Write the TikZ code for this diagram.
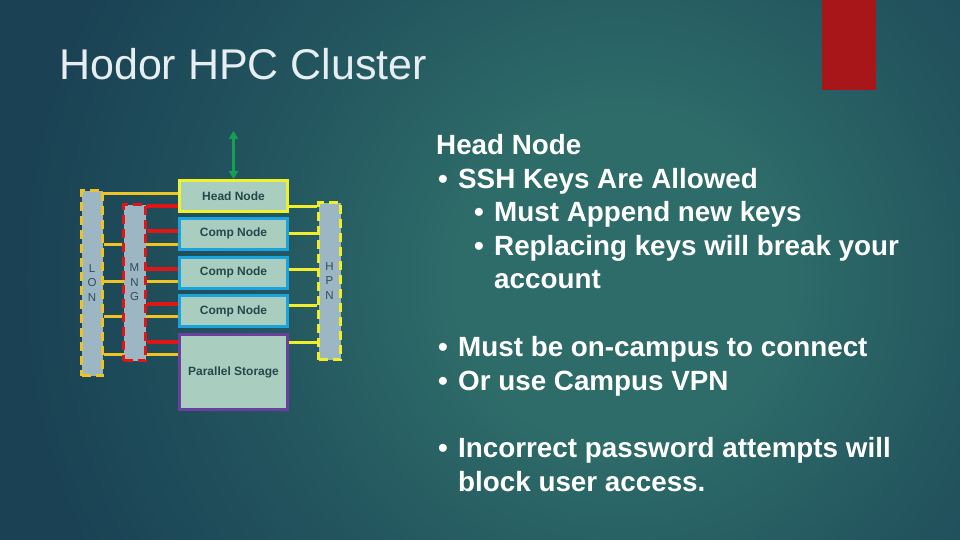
\documentclass[tikz,border=0pt]{standalone}
\usepackage{fontspec}
\setmainfont{Liberation Sans}
\usetikzlibrary{arrows.meta}
\definecolor{bgout}{HTML}{1A4254}
\definecolor{bgmid}{HTML}{23565F}
\definecolor{bgin}{HTML}{2E6C69}
\definecolor{accentred}{HTML}{A8161A}
\definecolor{titlecol}{HTML}{E6EEF1}
\definecolor{boxfill}{HTML}{A9CDBF}
\definecolor{boxtext}{HTML}{24494A}
\definecolor{barfill}{HTML}{9DB6C4}
\definecolor{bartext}{HTML}{2F4D5C}
\definecolor{headyel}{HTML}{EEF030}
\definecolor{compblue}{HTML}{1BA3DE}
\definecolor{storepurp}{HTML}{6A3F9E}
\definecolor{longold}{HTML}{EEC324}
\definecolor{mngred}{HTML}{E01515}
\definecolor{hpnyel}{HTML}{F0EE2A}
\definecolor{arrgreen}{HTML}{12A150}
\pgfdeclareradialshading{hpcglow}{\pgfpoint{0bp}{0bp}}{color(0bp)=(bgin); color(4bp)=(bgin); color(9bp)=(bgmid); color(15bp)=(bgout); color(50bp)=(bgout)}
\pgfdeclarelayer{bglayer}
\pgfdeclarelayer{wires}
\pgfsetlayers{bglayer,wires,main}
\newcommand\hpcbody{\bfseries\fontsize{27.8}{33.4}\selectfont}
\newcommand\hpcbox{\bfseries\fontsize{12}{14}\selectfont}
\newcommand\hpcbar{\fontsize{11.5}{14.5}\selectfont}
\begin{document}
\begin{tikzpicture}[x=1pt,y=-1pt,
  boxbase/.style={draw, line width=3pt, fill=boxfill, minimum width=108pt, inner sep=0pt, font=\hpcbox, text=boxtext},
  headbox/.style={boxbase, draw=headyel, minimum height=31pt},
  compbox/.style={boxbase, draw=compblue, minimum height=31pt},
  storebox/.style={boxbase, draw=storepurp, minimum height=75pt},
  netbar/.style={fill=barfill, line width=3pt, dash pattern=on 9pt off 5pt, inner sep=0pt, align=center, font=\hpcbar, text=bartext},
  goldwire/.style={draw=longold, line width=3pt},
  redwire/.style={draw=mngred, line width=4pt},
  hpnwire/.style={draw=hpnyel, line width=3pt},
  txt/.style={anchor=base west, inner sep=0pt, text=white, font=\hpcbody},
  bul/.style={anchor=base west, inner sep=0pt, text=white, font=\hpcbody}
]
\useasboundingbox (0,0) rectangle (960,540);
\begin{pgfonlayer}{bglayer}
  \fill[bgout] (0,0) rectangle (960,540);
  \begin{scope}
    \clip (0,0) rectangle (960,540);
    \shade[shading=hpcglow] (620,280) circle (1000pt);
  \end{scope}
  \fill[accentred] (822,0) rectangle (876,90);
\end{pgfonlayer}

% title
\node[anchor=base west, inner sep=0pt, text=titlecol, font=\fontsize{43}{50}\selectfont] (title) at (59,80) {Hodor HPC Cluster};

% boxes
\node[headbox] (head) at (233.5,196) {Head Node};
\node[compbox] (comp1) at (233.5,233.5) {Comp Node};
\node[compbox] (comp2) at (233.5,272.5) {Comp Node};
\node[compbox] (comp3) at (233.5,311) {Comp Node};
\node[storebox] (store) at (233.5,372) {Parallel Storage};

% network bars
\node[netbar, draw=longold, minimum width=21pt, minimum height=185pt] (lon) at (92,283) {L\\O\\N};
\node[netbar, draw=mngred, minimum width=22pt, minimum height=156pt] (mng) at (134.5,282.5) {M\\N\\G};
\node[netbar, draw=hpnyel, minimum width=22pt, minimum height=157pt] (hpn) at (329.5,281) {H\\P\\N};

% levels
\coordinate (g1) at (0,193); \coordinate (g2) at (0,244); \coordinate (g3) at (0,281);
\coordinate (g4) at (0,316); \coordinate (g5) at (0,354);
\coordinate (r1) at (0,206); \coordinate (r2) at (0,231); \coordinate (r3) at (0,269);
\coordinate (r4) at (0,304); \coordinate (r5) at (0,342);
\coordinate (h1) at (0,206); \coordinate (h2) at (0,233); \coordinate (h3) at (0,269);
\coordinate (h4) at (0,305); \coordinate (h5) at (0,342);

\begin{pgfonlayer}{wires}
  \draw[goldwire] (lon.east |- g1) -- (head.west |- g1);
  \draw[goldwire] (lon.east |- g2) -- (comp1.west |- g2);
  \draw[goldwire] (lon.east |- g3) -- (comp2.west |- g3);
  \draw[goldwire] (lon.east |- g4) -- (comp3.west |- g4);
  \draw[goldwire] (lon.east |- g5) -- (store.west |- g5);
  \draw[redwire] (mng.east |- r1) -- (head.west |- r1);
  \draw[redwire] (mng.east |- r2) -- (comp1.west |- r2);
  \draw[redwire] (mng.east |- r3) -- (comp2.west |- r3);
  \draw[redwire] (mng.east |- r4) -- (comp3.west |- r4);
  \draw[redwire] (mng.east |- r5) -- (store.west |- r5);
  \draw[hpnwire] (head.east |- h1) -- (hpn.west |- h1);
  \draw[hpnwire] (comp1.east |- h2) -- (hpn.west |- h2);
  \draw[hpnwire] (comp2.east |- h3) -- (hpn.west |- h3);
  \draw[hpnwire] (comp3.east |- h4) -- (hpn.west |- h4);
  \draw[hpnwire] (store.east |- h5) -- (hpn.west |- h5);
\end{pgfonlayer}

% internet arrow
\coordinate (up) at (233.5,131);
\draw[arrgreen, line width=2.5pt, {Triangle[width=9pt,length=8pt]}-{Triangle[width=9pt,length=8pt]}] (up) -- (head.north);

% right text
\node[txt] (t1) at (436,155) {Head Node};
\node[bul] (b2) at (438,188.4) {\makebox[20pt][l]{•}SSH Keys Are Allowed};
\node[bul] (b3) at (474,221.8) {\makebox[20pt][l]{•}Must Append new keys};
\node[bul] (b4) at (474,255.2) {\makebox[20pt][l]{•}Replacing keys will break your};
\node[txt] (t5) at (494,288.6) {account};
\node[bul] (b6) at (438,356) {\makebox[20pt][l]{•}Must be on-campus to connect};
\node[bul] (b7) at (438,390) {\makebox[20pt][l]{•}Or use Campus VPN};
\node[bul] (b8) at (438,457) {\makebox[20pt][l]{•}Incorrect password attempts will};
\node[txt] (t9) at (458,491) {block user access.};
\end{tikzpicture}
\end{document}
